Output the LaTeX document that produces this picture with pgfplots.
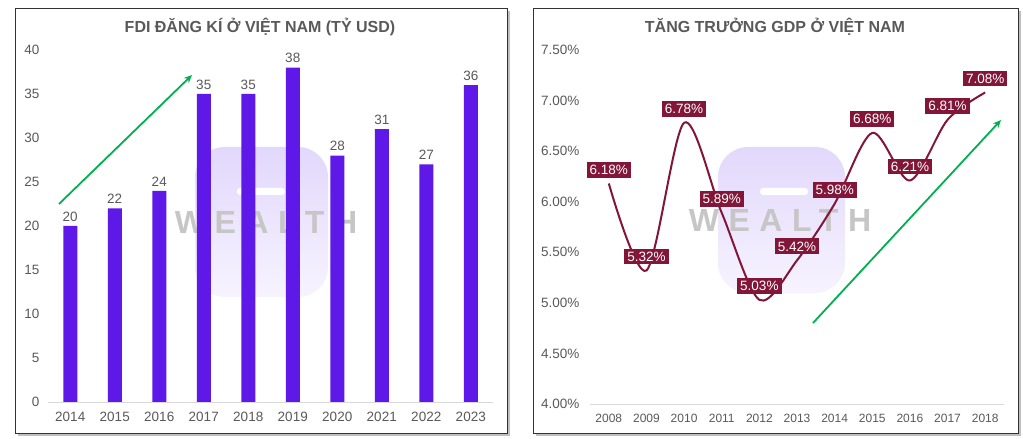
\documentclass[border=0pt]{standalone}
\usepackage{fontspec}
\setmainfont{Liberation Sans}
\newfontfamily\wmfont[LetterSpace=30]{Liberation Sans}
\usepackage{pgfplots}
\pgfplotsset{compat=1.18}
\usetikzlibrary{arrows.meta}
\pgfkeys{/pgf/number format/assume math mode=true}

\definecolor{txtgray}{RGB}{89,89,89}
\definecolor{barpurple}{RGB}{94,25,232}
\definecolor{gdpred}{RGB}{130,22,56}
\definecolor{arrowgreen}{RGB}{0,176,80}
\definecolor{wmlilac}{RGB}{226,216,252}
\definecolor{wmgray}{RGB}{198,198,198}

\begin{document}
\begin{tikzpicture}[x=1pt,y=1pt]
\path (0pt,0pt) rectangle (1023pt,439pt);
% panels with shadow
\fill[black!25] (18pt,3pt) rectangle (510pt,428pt);
\filldraw[fill=white, draw=black!80, line width=0.8pt] (15pt,6pt) rectangle (507pt,431pt);
\fill[black!25] (536pt,3pt) rectangle (1021pt,428pt);
\filldraw[fill=white, draw=black!80, line width=0.8pt] (533pt,6pt) rectangle (1018pt,431pt);

% watermark
\shade[rounded corners=30pt, top color=wmlilac, bottom color=wmlilac!30] (195pt,142pt) rectangle (328pt,292pt);
\fill[white, rounded corners=3pt] (237pt,244pt) rectangle (285pt,251pt);
\node[wmgray, font=\wmfont\bfseries\fontsize{32}{32}\selectfont] at (266pt,217pt) {WEALTH};
\shade[rounded corners=30pt, top color=wmlilac, bottom color=wmlilac!30] (718pt,146pt) rectangle (845pt,292pt);
\fill[white, rounded corners=3pt] (760pt,244pt) rectangle (808pt,251pt);
\node[wmgray, font=\wmfont\bfseries\fontsize{32}{32}\selectfont] at (780pt,219pt) {WEALTH};

% titles
\node[txtgray, font=\bfseries\fontsize{16}{18}\selectfont] at (260pt,412pt) {FDI ĐĂNG KÍ Ở VIỆT NAM (TỶ USD)};
\node[txtgray, font=\bfseries\fontsize{16}{18}\selectfont] at (775pt,412pt) {TĂNG TRƯỞNG GDP Ở VIỆT NAM};

\begin{axis}[
    at={(48pt,37pt)}, anchor=south west, scale only axis,
    width=445pt, height=352pt,
    xmin=-0.5, xmax=9.5, ymin=0, ymax=40,
    ytick={0,5,...,40},
    xtick=data,
    xticklabels={2014,2015,2016,2017,2018,2019,2020,2021,2022,2023},
    ybar, bar width=14pt,
    axis x line*=bottom, axis y line*=left,
    x axis line style={draw=black!15, line width=0.8pt},
    y axis line style={draw=none},
    major tick length=0pt,
    tick label style={txtgray, font=\fontsize{13.5}{15}\selectfont},
    yticklabel style={xshift=-5pt},
    xticklabel style={yshift=-7pt},
    nodes near coords,
    nodes near coords style={txtgray, font=\fontsize{13.5}{15}\selectfont, yshift=1pt},
    clip=false,
]
\addplot[fill=barpurple, draw=none] coordinates {
    (0,20) (1,22) (2,24) (3,35) (4,35) (5,38) (6,28) (7,31) (8,27) (9,36)
};
\end{axis}

\begin{axis}[
    at={(590pt,35pt)}, anchor=south west, scale only axis,
    width=414pt, height=354pt,
    xmin=-0.5, xmax=10.5, ymin=4, ymax=7.5,
    ytick={4,4.5,5,5.5,6,6.5,7,7.5},
    xtick={0,1,2,3,4,5,6,7,8,9,10},
    xticklabels={2008,2009,2010,2011,2012,2013,2014,2015,2016,2017,2018},
    yticklabel={\pgfmathprintnumber[fixed,fixed zerofill,precision=2]{\tick}\%},
    axis x line*=bottom, axis y line*=left,
    x axis line style={draw=black!15, line width=0.8pt},
    y axis line style={draw=none},
    major tick length=0pt,
    yticklabel style={txtgray, font=\fontsize{13.5}{15}\selectfont, xshift=-7pt},
    xticklabel style={txtgray, font=\fontsize{12}{14}\selectfont, yshift=-7pt},
    clip=false,
]
\addplot[gdpred, line width=2pt, smooth,
    nodes near coords={\pgfmathprintnumber[fixed,fixed zerofill,precision=2]{\pgfplotspointmeta}\%},
    every node near coord/.append style={fill=gdpred, text=white,
        font=\fontsize{13.5}{15}\selectfont, inner xsep=3pt, inner ysep=3.2pt,
        anchor=south, yshift=5pt}]
    coordinates {
    (0,6.18) (1,5.32) (2,6.78) (3,5.89) (4,5.03) (5,5.42)
    (6,5.98) (7,6.68) (8,6.21) (9,6.81) (10,7.08)
};
\end{axis}

% trend arrows
\draw[arrowgreen, line width=1.8pt, -{Stealth[length=8pt,width=7pt]}] (59pt,235pt) -- (192pt,364pt);
\draw[arrowgreen, line width=1.8pt, -{Stealth[length=8pt,width=7pt]}] (813pt,116pt) -- (1001pt,319pt);
\end{tikzpicture}
\end{document}
